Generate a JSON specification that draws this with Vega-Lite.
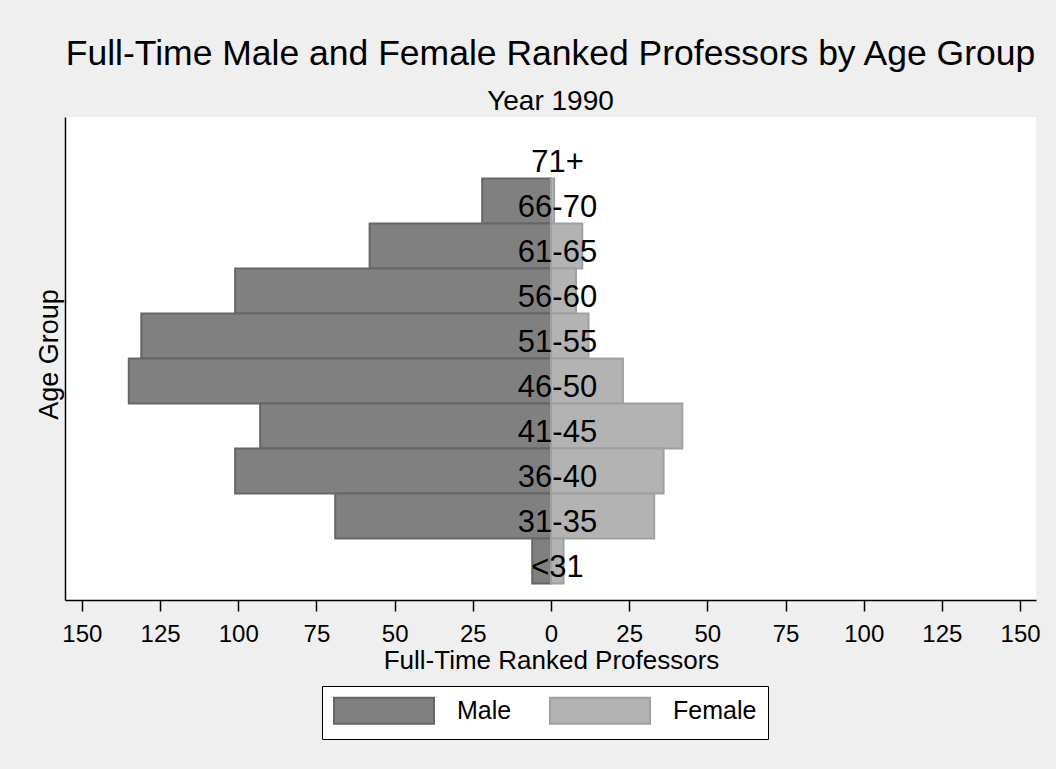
{
  "$schema": "https://vega.github.io/schema/vega-lite/v6.json",
  "width": 971,
  "height": 483,
  "autosize": "none",
  "padding": {"left": 65, "top": 117, "right": 20, "bottom": 169},
  "background": "#efefef",
  "config": {
    "font": "Liberation Sans",
    "view": {"fill": "white", "stroke": null}
  },
  "title": {
    "text": "Full-Time Male and Female Ranked Professors by Age Group",
    "subtitle": "Year 1990",
    "fontSize": 35.5,
    "fontWeight": "normal",
    "color": "black",
    "subtitleFontSize": 28,
    "subtitleColor": "black",
    "subtitlePadding": 16,
    "anchor": "middle",
    "frame": "group",
    "offset": 1
  },
  "data": {
    "values": [
      {"age": "71+", "sex": "Male", "count": 0},
      {"age": "71+", "sex": "Female", "count": 0},
      {"age": "66-70", "sex": "Male", "count": 22},
      {"age": "66-70", "sex": "Female", "count": 1},
      {"age": "61-65", "sex": "Male", "count": 58},
      {"age": "61-65", "sex": "Female", "count": 10},
      {"age": "56-60", "sex": "Male", "count": 101},
      {"age": "56-60", "sex": "Female", "count": 8},
      {"age": "51-55", "sex": "Male", "count": 131},
      {"age": "51-55", "sex": "Female", "count": 12},
      {"age": "46-50", "sex": "Male", "count": 135},
      {"age": "46-50", "sex": "Female", "count": 23},
      {"age": "41-45", "sex": "Male", "count": 93},
      {"age": "41-45", "sex": "Female", "count": 42},
      {"age": "36-40", "sex": "Male", "count": 101},
      {"age": "36-40", "sex": "Female", "count": 36},
      {"age": "31-35", "sex": "Male", "count": 69},
      {"age": "31-35", "sex": "Female", "count": 33},
      {"age": "<31", "sex": "Male", "count": 6},
      {"age": "<31", "sex": "Female", "count": 4}
    ]
  },
  "encoding": {
    "y": {
      "field": "age",
      "type": "nominal",
      "scale": {
        "domain": ["71+", "66-70", "61-65", "56-60", "51-55", "46-50", "41-45", "36-40", "31-35", "<31"],
        "paddingInner": 0,
        "paddingOuter": 0.3667
      },
      "axis": {
        "labels": false,
        "ticks": false,
        "grid": false,
        "domain": true,
        "domainColor": "black",
        "domainWidth": 1.5,
        "title": "Age Group",
        "titleFontSize": 27,
        "titleFontWeight": "normal",
        "titleColor": "black",
        "titleAngle": -90,
        "titleX": -8,
        "titleY": 237,
        "titleAlign": "center",
        "titleBaseline": "alphabetic"
      }
    }
  },
  "layer": [
    {
      "transform": [{"filter": "datum.sex == 'Male' && datum.count > 0"}],
      "mark": {"type": "bar", "strokeWidth": 2},
      "encoding": {
        "x": {
          "field": "count",
          "type": "quantitative",
          "scale": {"domain": [0, 155.4], "range": [486, 0], "nice": false, "zero": true},
          "axis": {
            "orient": "bottom",
            "values": [0, 25, 50, 75, 100, 125, 150],
            "grid": false,
            "tickSize": 11,
            "tickWidth": 1.5,
            "tickColor": "black",
            "domainColor": "black",
            "domainWidth": 1.5,
            "labelFontSize": 24,
            "labelColor": "black",
            "labelBaseline": "alphabetic",
            "labelPadding": 30,
            "labelFlush": false,
            "labelOverlap": false,
            "title": "Full-Time Ranked Professors",
            "titleFontSize": 26,
            "titleFontWeight": "normal",
            "titleColor": "black",
            "titleX": 486,
            "titleY": 68,
            "titleAlign": "center",
            "titleBaseline": "alphabetic"
          }
        },
        "fill": {
          "field": "sex",
          "type": "nominal",
          "scale": {"domain": ["Male", "Female"], "range": ["#808080", "#b3b3b3"]},
          "legend": {
            "orient": "none",
            "legendX": 257,
            "legendY": 569,
            "direction": "horizontal",
            "title": null,
            "symbolType": "M-1,-1.04H7V1.04H-1Z",
            "symbolSize": 625,
            "symbolStrokeWidth": 2,
            "symbolOpacity": 1,
            "labelFontSize": 25,
            "labelColor": "black",
            "labelOffset": 97,
            "columnPadding": 34,
            "padding": 11,
            "fillColor": "white",
            "strokeColor": "black",
            "cornerRadius": 0
          }
        },
        "stroke": {
          "field": "sex",
          "type": "nominal",
          "scale": {"domain": ["Male", "Female"], "range": ["#666666", "#a0a0a0"]},
          "legend": {
            "orient": "none",
            "legendX": 257,
            "legendY": 569,
            "direction": "horizontal",
            "title": null,
            "symbolType": "M-1,-1.04H7V1.04H-1Z",
            "symbolSize": 625,
            "symbolStrokeWidth": 2,
            "symbolOpacity": 1,
            "labelFontSize": 25,
            "labelColor": "black",
            "labelOffset": 97,
            "columnPadding": 34,
            "padding": 11,
            "fillColor": "white",
            "strokeColor": "black",
            "cornerRadius": 0
          }
        }
      }
    },
    {
      "transform": [{"filter": "datum.sex == 'Female' && datum.count > 0"}],
      "mark": {"type": "bar", "strokeWidth": 2},
      "encoding": {
        "x": {
          "field": "count",
          "type": "quantitative",
          "scale": {"domain": [0, 155.1], "range": [486, 971], "nice": false, "zero": true},
          "axis": {
            "orient": "bottom",
            "values": [25, 50, 75, 100, 125, 150],
            "grid": false,
            "tickSize": 11,
            "tickWidth": 1.5,
            "tickColor": "black",
            "domainColor": "black",
            "domainWidth": 1.5,
            "labelFontSize": 24,
            "labelColor": "black",
            "labelBaseline": "alphabetic",
            "labelPadding": 30,
            "labelFlush": false,
            "labelOverlap": false,
            "title": null
          }
        },
        "fill": {"field": "sex", "type": "nominal"},
        "stroke": {"field": "sex", "type": "nominal"}
      }
    },
    {
      "transform": [{"filter": "datum.sex == 'Male'"}],
      "mark": {"type": "text", "fontSize": 31, "color": "black", "align": "center", "baseline": "alphabetic", "dx": 7, "dy": 16},
      "encoding": {
        "text": {"field": "age", "type": "nominal"}
      }
    }
  ],
  "resolve": {"scale": {"x": "independent"}, "axis": {"x": "independent"}}
}
